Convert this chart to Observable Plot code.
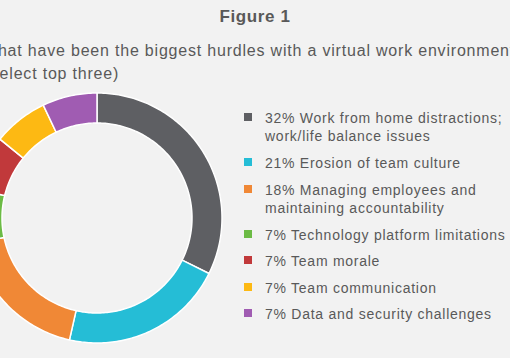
<!DOCTYPE html>
<html>
<head>
<meta charset="utf-8">
<script src="https://cdn.jsdelivr.net/npm/d3@7"></script>
<script src="https://cdn.jsdelivr.net/npm/@observablehq/plot@0.6"></script>
<style>
  html, body { margin: 0; padding: 0; background: #f2f2f2; }
  #wrap { position: relative; width: 510px; height: 358px; overflow: hidden; background: #f2f2f2; font-family: "Liberation Sans", Arial, sans-serif; color: #595959; }
  #title { position: absolute; left: 0; width: 510px; top: 7px; text-align: center; font-weight: bold; font-size: 17px; letter-spacing: 0.6px; color: #595959; }
  #sub { position: absolute; left: -18px; top: 39px; width: 600px; font-size: 16px; letter-spacing: 0.8px; line-height: 23px; white-space: nowrap; color: #595959; }
  #chart { position: absolute; left: -33px; top: 88px; }
  #legend { position: absolute; left: 244px; top: 0; font-size: 14px; letter-spacing: 0.74px; line-height: 18px; }
  .item { position: absolute; left: 0; white-space: nowrap; }
  .sw { position: absolute; left: 0; width: 8px; height: 8px; }
  .lab { position: absolute; left: 21px; }
</style>
</head>
<body>
<div id="wrap">
  <div id="title">Figure 1</div>
  <div id="sub">What have been the biggest hurdles with a virtual work environment?<br>(Select top three)</div>
  <div id="chart"></div>
  <div id="legend"></div>
</div>
<script>
const categories = [
  "Work from home distractions; work/life balance issues",
  "Erosion of team culture",
  "Managing employees and maintaining accountability",
  "Technology platform limitations",
  "Team morale",
  "Team communication",
  "Data and security challenges"
];
const legendLines = [
  ["32% Work from home distractions;", "work/life balance issues"],
  ["21% Erosion of team culture"],
  ["18% Managing employees and", "maintaining accountability"],
  ["7% Technology platform limitations"],
  ["7% Team morale"],
  ["7% Team communication"],
  ["7% Data and security challenges"]
];
const values = [32, 21, 18, 7, 7, 7, 7];
const colors = ["#5e5f63", "#25bdd6", "#f08836", "#6cbb45", "#c1393b", "#fdb913", "#a05cb2"];

const total = d3.sum(values);
const outerR = 125, innerR = 95;
const pts = [];
let start = 0;
values.forEach((v, i) => {
  const a0 = start / total * 2 * Math.PI;
  const a1 = (start + v) / total * 2 * Math.PI;
  const n = Math.max(2, Math.ceil((a1 - a0) / (Math.PI / 180)));
  for (let k = 0; k <= n; k++) {
    const t = a0 + (a1 - a0) * k / n;
    pts.push({cat: categories[i], x1: outerR * Math.sin(t), y1: outerR * Math.cos(t), x2: innerR * Math.sin(t), y2: innerR * Math.cos(t)});
  }
  start += v;
});

const plot = Plot.plot({
  width: 260, height: 260,
  margin: 0,
  x: {domain: [-130, 130], axis: null},
  y: {domain: [-130, 130], axis: null},
  color: {domain: categories, range: colors},
  style: {background: "transparent"},
  marks: [
    Plot.area(pts, {x1: "x1", y1: "y1", x2: "x2", y2: "y2", z: "cat", fill: "cat", stroke: "white", strokeWidth: 1.5, curve: "linear"})
  ]
});
document.getElementById("chart").appendChild(plot);

const tops = [109, 154, 181, 226, 252, 279, 305];
const leg = document.getElementById("legend");
legendLines.forEach((lines, i) => {
  const it = document.createElement("div");
  it.className = "item";
  it.style.top = tops[i] + "px";
  const sw = document.createElement("div");
  sw.className = "sw";
  sw.style.background = colors[i];
  sw.style.top = "4px";
  const lab = document.createElement("div");
  lab.className = "lab";
  lab.innerHTML = lines.join("<br>");
  it.appendChild(sw); it.appendChild(lab);
  leg.appendChild(it);
});
</script>
</body>
</html>
